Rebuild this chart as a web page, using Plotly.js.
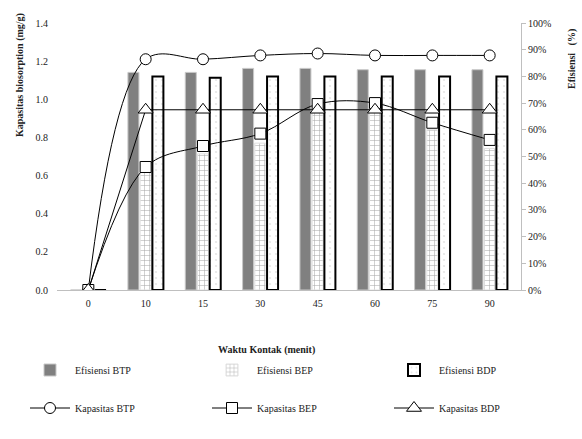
<!DOCTYPE html>
<html><head><meta charset="utf-8">
<script src="https://cdn.plot.ly/plotly-3.0.1.min.js"></script>
<style>body{margin:0;background:#fff}#c{width:582px;height:439px}</style>
</head><body><div id="c"></div>
<script>
const categories = ["0","10","15","30","45","60","75","90"];
const efisiensiBTP = [0, 0.815, 0.815, 0.83, 0.83, 0.825, 0.825, 0.825];
const efisiensiBEP = [0, 0.44, 0.51, 0.55, 0.67, 0.67, 0.60, 0.53];
const efisiensiBDP = [0, 0.80, 0.795, 0.80, 0.80, 0.80, 0.80, 0.80];
const kapasitasBTP = [0, 1.21, 1.21, 1.23, 1.24, 1.23, 1.23, 1.23];
const kapasitasBEP = [0, 0.645, 0.755, 0.82, 0.975, 0.98, 0.877, 0.787];
const kapasitasBDP = [0, 0.945, 0.945, 0.945, 0.945, 0.945, 0.945, 0.945];

const serif = "Liberation Serif, Times New Roman, serif";
const traces = [
  {type:"bar", name:"Efisiensi BTP", x:categories, y:efisiensiBTP, yaxis:"y", legend:"legend",
   marker:{color:"#808080", line:{color:"#c8c8c8", width:1}}},
  {type:"bar", name:"Efisiensi BEP", x:categories, y:efisiensiBEP, yaxis:"y", legend:"legend2",
   marker:{color:"#ffffff", line:{color:"#e0e0e0", width:1},
     pattern:{shape:"+", fgcolor:"#a8a8a8", bgcolor:"#ffffff", size:5, solidity:0.2}}},
  {type:"bar", name:"Efisiensi BDP", x:categories, y:efisiensiBDP, yaxis:"y", legend:"legend3",
   marker:{color:"#ffffff", line:{color:"#000000", width:2},
     pattern:{shape:".", fgcolor:"#e6e6e6", bgcolor:"#ffffff", size:6, solidity:0.1}}},
  {type:"scatter", mode:"lines+markers", name:"Kapasitas BTP", x:categories, y:kapasitasBTP, yaxis:"y2", legend:"legend4",
   line:{color:"#000", width:1, shape:"spline"},
   marker:{symbol:"circle", size:11, color:"#fff", line:{color:"#000", width:1}}},
  {type:"scatter", mode:"lines+markers", name:"Kapasitas BEP", x:categories, y:kapasitasBEP, yaxis:"y2", legend:"legend5",
   line:{color:"#000", width:1, shape:"spline"},
   marker:{symbol:"square", size:11, color:"#fff", line:{color:"#000", width:1}}},
  {type:"scatter", mode:"lines+markers", name:"Kapasitas BDP", x:categories, y:kapasitasBDP, yaxis:"y2", legend:"legend6",
   line:{color:"#000", width:1},
   marker:{symbol:"triangle-up", size:13, color:"#fff", line:{color:"#000", width:1}}}
];

function leg(px, py){
  return {orientation:"h", xref:"container", yref:"container", xanchor:"left", yanchor:"middle",
    x:px/582, y:1-py/439, font:{family:serif, size:10, color:"#222"},
    bgcolor:"rgba(0,0,0,0)", itemwidth:40};
}

const layout = {
  width:582, height:439,
  margin:{l:57, r:61, t:23, b:149},
  paper_bgcolor:"#fff", plot_bgcolor:"#fff",
  font:{family:serif, size:10, color:"#222"},
  barmode:"group", bargap:0.36, bargroupgap:0.1,
  xaxis:{type:"category", showgrid:false, showline:true, linecolor:"#bfbfbf", linewidth:1,
    ticks:"", ticklabelstandoff:4, tickfont:{family:serif, size:10}, zeroline:false, automargin:false},
  yaxis:{side:"right", range:[0,1], dtick:0.1, tickformat:".0%", showgrid:false, zeroline:false,
    showline:true, linecolor:"#bfbfbf", ticks:"outside", ticklen:4, tickcolor:"#bfbfbf",
    tickfont:{family:serif, size:10}, automargin:false},
  yaxis2:{overlaying:"y", side:"left", range:[0,1.4], dtick:0.2, tickformat:".1f", showgrid:false,
    zeroline:false, showline:false, ticks:"", ticklabelstandoff:8, tickfont:{family:serif, size:10}, automargin:false},
  showlegend:true,
  legend:leg(25,370), legend2:leg(207,370), legend3:leg(389,370),
  legend4:leg(25,408), legend5:leg(207,408), legend6:leg(389,408),
  annotations:[
    {text:"<b>Kapasitas biosorption (mg/g)</b>", xref:"paper", yref:"paper",
     x:(20-57)/464, y:(290-75)/267, textangle:-90, showarrow:false,
     font:{family:serif, size:10, color:"#222"}, xanchor:"center", yanchor:"middle"},
    {text:"<b>Efisiensi   (%)</b>", xref:"paper", yref:"paper",
     x:(572-57)/464, y:(290-59)/267, textangle:-90, showarrow:false,
     font:{family:serif, size:10, color:"#222"}, xanchor:"center", yanchor:"middle"},
    {text:"<b>Waktu Kontak (menit)</b>", xref:"paper", yref:"paper",
     x:(266-57)/464, y:(290-350)/267, showarrow:false,
     font:{family:serif, size:10, color:"#222"}, xanchor:"center", yanchor:"middle"}
  ]
};
Plotly.newPlot("c", traces, layout, {displayModeBar:false, staticPlot:true});
</script></body></html>
